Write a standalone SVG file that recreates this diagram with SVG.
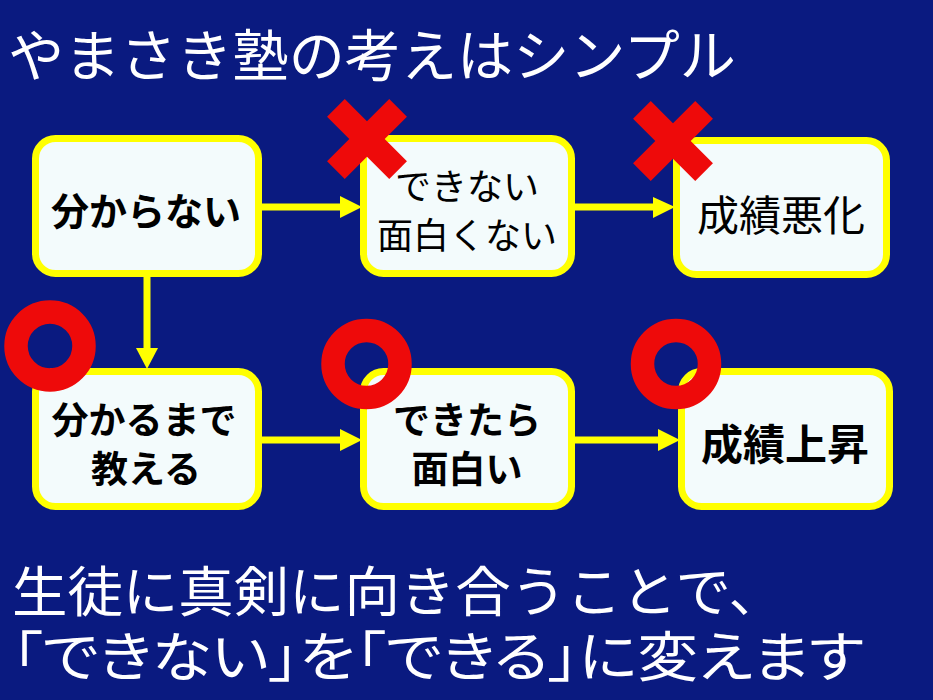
<svg xmlns="http://www.w3.org/2000/svg" width="933" height="700" viewBox="0 0 933 700">
<defs>
<style>
.bg{fill:#0a1a80}
.box{fill:#f3fbfc;stroke:#ffff00;stroke-width:7}
.t{font-family:"Noto Sans CJK JP","Noto Sans CJK SC",sans-serif;fill:#000;text-anchor:middle;dominant-baseline:central}
.b{font-weight:bold}
.w{font-family:"Noto Sans CJK JP","Noto Sans CJK SC",sans-serif;fill:#fff;dominant-baseline:central}
.p{font-feature-settings:"palt"}
.ln{stroke:#ffff00;stroke-width:7;fill:none}
.hd{fill:#ffff00}
.x{fill:#ee0a0a}
.o{fill:none;stroke:#ee0a0a;stroke-width:23.5}
</style>
</defs>
<rect class="bg" x="0" y="0" width="933" height="700"/>
<text class="w" x="8" y="51" font-size="56" textLength="728" lengthAdjust="spacingAndGlyphs">やまさき塾の考えはシンプル</text>
<g id="connectors">
<line class="ln" x1="262" y1="207" x2="344" y2="207"/>
<polygon class="hd" points="340,196 362,207 340,218"/>
<line class="ln" x1="575" y1="207" x2="657" y2="207"/>
<polygon class="hd" points="653,197 675,207 653,218"/>
<line class="ln" x1="147" y1="277" x2="147" y2="352"/>
<polygon class="hd" points="136,348 158,348 147,369"/>
<line class="ln" x1="262" y1="440" x2="344" y2="440"/>
<polygon class="hd" points="340,429 362,440 340,451"/>
<line class="ln" x1="575" y1="440" x2="662" y2="440"/>
<polygon class="hd" points="658,429 680,440 658,451"/>
</g>
<g id="n1">
<rect class="box" x="35.5" y="138.5" width="223" height="135" rx="20"/>
<text class="t b" x="146" y="208" font-size="38">分からない</text>
</g>
<g id="n2">
<rect class="box" x="363.5" y="138.5" width="208" height="135" rx="20"/>
<text class="t" x="467" y="184" font-size="36">できない</text>
<text class="t" x="467" y="233" font-size="36">面白くない</text>
</g>
<g id="n3">
<rect class="box" x="676.5" y="140.5" width="210" height="134" rx="20"/>
<text class="t" x="781" y="212" font-size="42">成績悪化</text>
</g>
<g id="n4">
<rect class="box" x="35.5" y="371.5" width="223" height="135" rx="20"/>
<text class="t b" x="144" y="418" font-size="37">分かるまで</text>
<text class="t b" x="146" y="467" font-size="37">教える</text>
</g>
<g id="n5">
<rect class="box" x="363.5" y="371.5" width="208" height="135" rx="20"/>
<text class="t b" x="467" y="418" font-size="37">できたら</text>
<text class="t b" x="467" y="467" font-size="37">面白い</text>
</g>
<g id="n6">
<rect class="box" x="681.5" y="371.5" width="208" height="135" rx="20"/>
<text class="t b" x="785" y="441" font-size="42">成績上昇</text>
</g>
<g id="x1" transform="translate(367,139) rotate(45)">
<rect class="x" x="-44" y="-12.5" width="88" height="25"/>
<rect class="x" x="-12.5" y="-44" width="25" height="88"/>
</g>
<g id="x2" transform="translate(673,141) rotate(45)">
<rect class="x" x="-44" y="-12.5" width="88" height="25"/>
<rect class="x" x="-12.5" y="-44" width="25" height="88"/>
</g>
<g id="o1"><circle class="o" cx="50" cy="346" r="34"/></g>
<g id="o2"><circle class="o" cx="366.5" cy="364" r="33.5"/></g>
<g id="o3"><circle class="o" cx="676" cy="364" r="33.5"/></g>
<text class="w" x="12" y="588" font-size="54" textLength="772" lengthAdjust="spacingAndGlyphs">生徒に真剣に向き合うことで、</text>
<text class="w p" x="12" y="653" font-size="54" textLength="852" lengthAdjust="spacingAndGlyphs">「できない」を「できる」に変えます</text>
</svg>
